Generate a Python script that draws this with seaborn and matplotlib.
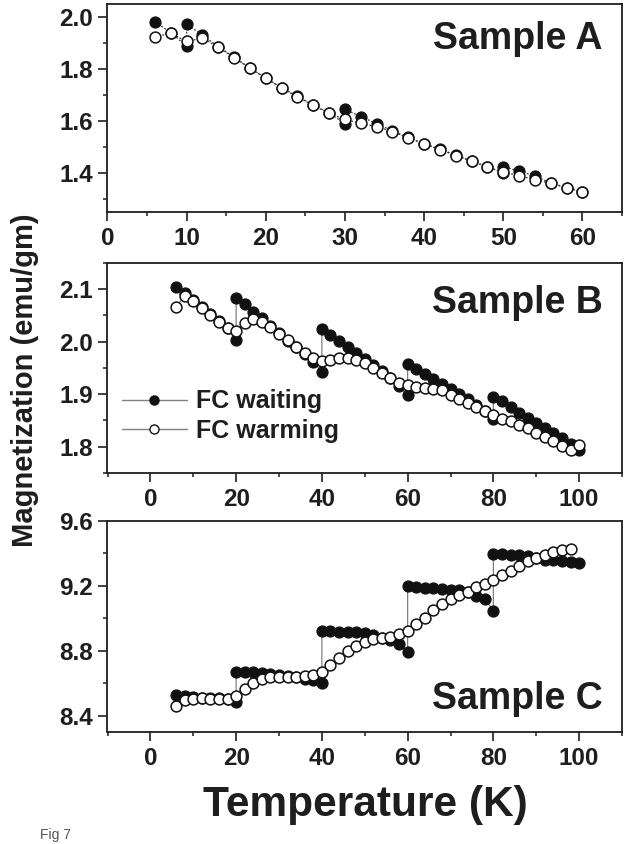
import matplotlib
matplotlib.use("Agg")
import matplotlib.pyplot as plt
from matplotlib.lines import Line2D
from matplotlib.ticker import MultipleLocator, FormatStrFormatter
import seaborn as sns
import pandas as pd

# ---------------- data ----------------
A_warm_T = [6, 8, 10, 12, 14, 16, 18, 20, 22, 24, 26, 28, 30, 32, 34, 36, 38, 40,
            42, 44, 46, 48, 50, 52, 54, 56, 58, 60]
A_warm_M = [1.923, 1.938, 1.906, 1.919, 1.884, 1.843, 1.802, 1.764, 1.726, 1.693,
            1.660, 1.629, 1.606, 1.591, 1.578, 1.559, 1.535, 1.511, 1.490, 1.467,
            1.445, 1.422, 1.404, 1.390, 1.374, 1.360, 1.343, 1.326]
A_wait_T = [6, 8, 10, 10, 12, 14, 16, 18, 20, 22, 24, 26, 28, 30, 30, 32, 34, 36,
            38, 40, 42, 44, 46, 48, 50, 50, 52, 54, 56, 58, 60]
A_wait_M = [1.981, 1.940, 1.888, 1.973, 1.930, 1.886, 1.845, 1.804, 1.766, 1.728,
            1.695, 1.662, 1.631, 1.590, 1.645, 1.617, 1.590, 1.562, 1.537, 1.513,
            1.492, 1.469, 1.447, 1.424, 1.400, 1.424, 1.408, 1.388, 1.362, 1.344, 1.328]

B_warm_T = [6, 8, 10, 12, 14, 16, 18, 20, 22, 24, 26, 28, 30, 32, 34, 36, 38, 40,
            42, 44, 46, 48, 50, 52, 54, 56, 58, 60, 62, 64, 66, 68, 70, 72, 74, 76,
            78, 80, 82, 84, 86, 88, 90, 92, 94, 96, 98, 100]
B_warm_M = [2.066, 2.087, 2.077, 2.064, 2.051, 2.037, 2.025, 2.021, 2.036, 2.043,
            2.038, 2.027, 2.015, 2.003, 1.990, 1.978, 1.968, 1.963, 1.965, 1.969,
            1.968, 1.965, 1.959, 1.950, 1.941, 1.930, 1.922, 1.917, 1.914, 1.912,
            1.909, 1.907, 1.898, 1.891, 1.884, 1.875, 1.867, 1.861, 1.853, 1.848,
            1.842, 1.835, 1.827, 1.818, 1.810, 1.802, 1.794, 1.803]
B_wait_T = [6, 8, 10, 12, 14, 16, 18, 20, 20, 22, 24, 26, 28, 30, 32, 34, 36, 38,
            40, 40, 42, 44, 46, 48, 50, 52, 54, 56, 58, 60, 60, 62, 64, 66, 68, 70,
            72, 74, 76, 78, 80, 80, 82, 84, 86, 88, 90, 92, 94, 96, 98, 100]
B_wait_M = [2.104, 2.093, 2.080, 2.066, 2.052, 2.039, 2.026, 2.003, 2.082, 2.071,
            2.057, 2.045, 2.030, 2.016, 2.002, 1.989, 1.976, 1.961, 1.943, 2.024,
            2.013, 2.001, 1.989, 1.978, 1.967, 1.956, 1.944, 1.931, 1.916, 1.898,
            1.957, 1.948, 1.938, 1.929, 1.919, 1.910, 1.900, 1.891, 1.880, 1.868,
            1.853, 1.894, 1.886, 1.875, 1.865, 1.855, 1.845, 1.836, 1.826, 1.816,
            1.806, 1.794]

C_warm_T = [6, 8, 10, 12, 14, 16, 18, 20, 22, 24, 26, 28, 30, 32, 34, 36, 38, 40,
            42, 44, 46, 48, 50, 52, 54, 56, 58, 60, 62, 64, 66, 68, 70, 72, 74, 76,
            78, 80, 82, 84, 86, 88, 90, 92, 94, 96, 98]
C_warm_M = [8.459, 8.496, 8.503, 8.507, 8.505, 8.505, 8.503, 8.523, 8.568, 8.603,
            8.626, 8.636, 8.640, 8.640, 8.640, 8.644, 8.650, 8.667, 8.712, 8.757,
            8.798, 8.829, 8.855, 8.872, 8.882, 8.888, 8.901, 8.925, 8.964, 9.005,
            9.050, 9.091, 9.122, 9.143, 9.163, 9.194, 9.214, 9.235, 9.266, 9.292,
            9.321, 9.352, 9.374, 9.393, 9.407, 9.419, 9.426]
C_wait_T = [6, 8, 10, 12, 14, 16, 18, 20, 20, 22, 24, 26, 28, 30, 32, 34, 36, 38,
            40, 40, 42, 44, 46, 48, 50, 52, 54, 56, 58, 60, 60, 62, 64, 66, 68, 70,
            72, 74, 76, 78, 80, 80, 82, 84, 86, 88, 90, 92, 94, 96, 98, 100]
C_wait_M = [8.525, 8.523, 8.515, 8.512, 8.510, 8.508, 8.505, 8.482, 8.669, 8.669,
            8.667, 8.665, 8.658, 8.652, 8.645, 8.638, 8.624, 8.620, 8.599, 8.923,
            8.921, 8.919, 8.917, 8.915, 8.911, 8.895, 8.882, 8.866, 8.845, 8.794,
            9.200, 9.194, 9.190, 9.186, 9.182, 9.177, 9.175, 9.160, 9.136, 9.122,
            9.046, 9.399, 9.395, 9.391, 9.389, 9.385, 9.372, 9.358, 9.358, 9.352,
            9.348, 9.342]

sample_labels = ["Sample A", "Sample B", "Sample C"]
legend_labels = ["FC waiting", "FC warming"]
x_label = "Temperature (K)"
y_label = "Magnetization (emu/gm)"
caption = "Fig 7"

# ---------------- style ----------------
sns.set_theme(style="ticks")
plt.rcParams["font.family"] = ["Liberation Sans", "DejaVu Sans"]
plt.rcParams["font.weight"] = "bold"
TXT = "#1e1e1e"

fig = plt.figure(figsize=(6.33, 8.44), dpi=100)
W, H = 633.0, 844.0
left, right = 107.5, 622.0
boxes = [(4, 212), (262.7, 473), (521, 732)]
axes = []
for top, bot in boxes:
    ax = fig.add_axes([left / W, 1 - bot / H, (right - left) / W, (bot - top) / H])
    axes.append(ax)

series = [
    (A_wait_T, A_wait_M, A_warm_T, A_warm_M),
    (B_wait_T, B_wait_M, B_warm_T, B_warm_M),
    (C_wait_T, C_wait_M, C_warm_T, C_warm_M),
]

for i, (ax, (wt, wm, rt, rm)) in enumerate(zip(axes, series)):
    if i == 0:
        lkw = dict(color="#3a3a3a", linewidth=0.9, linestyle=(0, (1.5, 1.5)))
    else:
        lkw = dict(color="#808080", linewidth=0.9, linestyle="-")
    dwait = pd.DataFrame({"T": wt, "M": wm})
    dwarm = pd.DataFrame({"T": rt, "M": rm})
    sns.lineplot(data=dwait, x="T", y="M", ax=ax, estimator=None, sort=False,
                 marker="o", markersize=7.8, markerfacecolor="#111111",
                 markeredgecolor="#111111", markeredgewidth=1.0, zorder=3,
                 legend=False, **lkw)
    sns.lineplot(data=dwarm, x="T", y="M", ax=ax, estimator=None, sort=False,
                 marker="o", markersize=7.8, markerfacecolor="white",
                 markeredgecolor="#111111", markeredgewidth=1.1, zorder=4,
                 legend=False, **lkw)
    ax.set_xlabel("")
    ax.set_ylabel("")
    for s in ax.spines.values():
        s.set_linewidth(1.3)
        s.set_color(TXT)
        s.set_visible(True)
    ax.tick_params(which="major", direction="out", length=6.8, width=1.2,
                   labelsize=17.5, colors=TXT, pad=3.5)
    ax.tick_params(which="minor", direction="out", length=3.2, width=1.1, colors=TXT)
    ax.tick_params(top=False, right=False, which="both")
    ax.set_facecolor("white")

# Panel A
axA, axB, axC = axes
axA.set_xlim(0, 65)
axA.set_ylim(1.25, 2.05)
axA.xaxis.set_major_locator(MultipleLocator(10))
axA.xaxis.set_minor_locator(MultipleLocator(5))
axA.yaxis.set_major_locator(MultipleLocator(0.2))
axA.yaxis.set_minor_locator(MultipleLocator(0.1))
axA.yaxis.set_major_formatter(FormatStrFormatter("%.1f"))

# Panel B
axB.set_xlim(-10, 110)
axB.set_ylim(1.75, 2.15)
axB.xaxis.set_major_locator(MultipleLocator(20))
axB.xaxis.set_minor_locator(MultipleLocator(10))
axB.yaxis.set_major_locator(MultipleLocator(0.1))
axB.yaxis.set_minor_locator(MultipleLocator(0.05))
axB.yaxis.set_major_formatter(FormatStrFormatter("%.1f"))

# Panel C
axC.set_xlim(-10, 110)
axC.set_ylim(8.3, 9.6)
axC.xaxis.set_major_locator(MultipleLocator(20))
axC.xaxis.set_minor_locator(MultipleLocator(10))
axC.yaxis.set_major_locator(MultipleLocator(0.4))
axC.yaxis.set_minor_locator(MultipleLocator(0.2))
axC.yaxis.set_major_formatter(FormatStrFormatter("%.1f"))

for ax in (axA, axB, axC):
    ax.tick_params(axis="x", pad=4)

# Sample labels
for ax, lab, yb in zip(axes, sample_labels, [0.785, 0.761, 0.11]):
    ax.text(0.963, yb, lab, transform=ax.transAxes, ha="right", va="baseline",
            fontsize=27, fontweight="bold", color=TXT)

# Legend in panel B
handles = [
    Line2D([], [], color="#808080", linewidth=1.0, marker="o", markersize=6.5,
           markerfacecolor="#111111", markeredgecolor="#111111"),
    Line2D([], [], color="#808080", linewidth=1.0, marker="o", markersize=6.5,
           markerfacecolor="white", markeredgecolor="#111111", markeredgewidth=1.0),
]
leg = axB.legend(handles, legend_labels, loc="center left",
                 bbox_to_anchor=(0.028, 0.271), frameon=False, fontsize=18,
                 handlelength=2.6, handletextpad=0.35, labelspacing=0.22,
                 borderpad=0, borderaxespad=0)
for t in leg.get_texts():
    t.set_color(TXT)
    t.set_fontweight("bold")

# Axis titles
fig.text(0.5766, 1 - 805 / H, x_label, ha="center", va="center",
         fontsize=30.5, fontweight="bold", color=TXT)
fig.text(25 / W, 1 - 380 / H, y_label, ha="center", va="center", rotation=90,
         fontsize=21, fontweight="bold", color=TXT,
         family=["Liberation Sans Narrow", "Liberation Sans", "DejaVu Sans"])

# Figure caption at the bottom-left edge
fig.text(40 / W, 2.5 / H, caption, ha="left", va="bottom", fontsize=10,
         color="#555555", fontweight="normal")

fig.savefig("out.png", dpi=100, facecolor="white")
